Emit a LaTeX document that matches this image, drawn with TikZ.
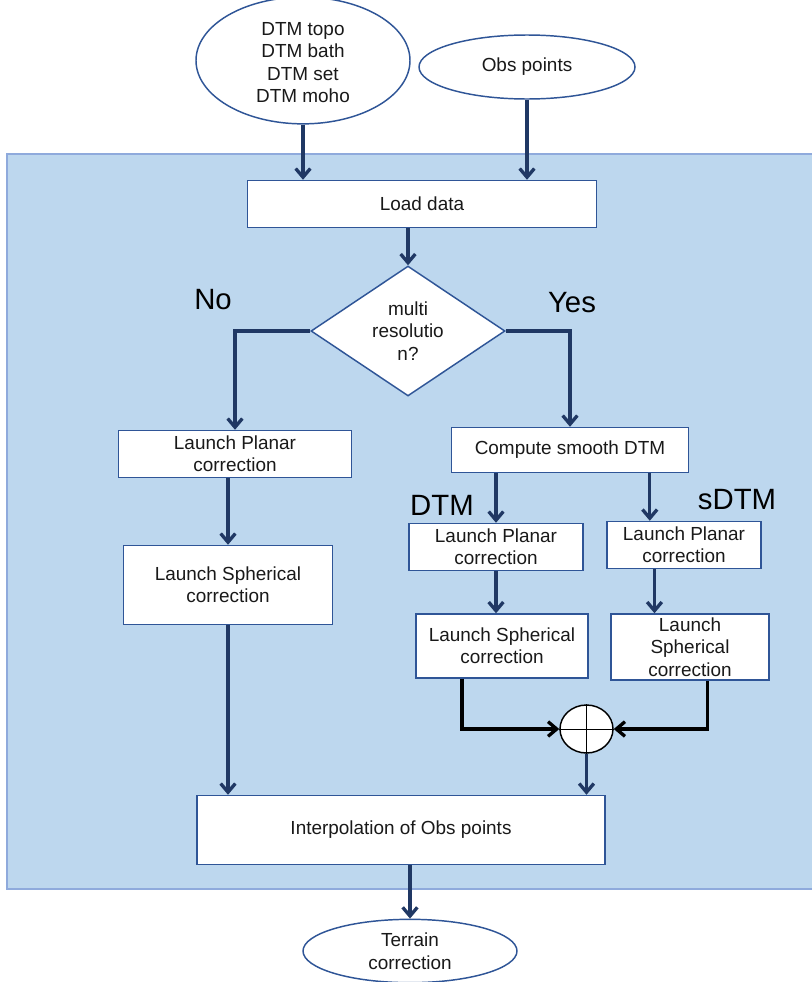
\documentclass[tikz,border=0pt]{standalone}
\usepackage{fontspec}
\setmainfont{Liberation Sans}
\usetikzlibrary{shapes.geometric,arrows.meta,calc}

\definecolor{panelfill}{HTML}{BDD7EE}
\definecolor{paneledge}{HTML}{8FAADC}
\definecolor{boxedge}{HTML}{2F5597}
\definecolor{flowblue}{HTML}{203864}

\def\pxu{0.75pt}

\tikzset{
  every node/.style={font=\fontsize{14.2pt}{16.8pt}\selectfont, text=black!90},
  stepbox/.style={draw=boxedge, line width=1.1pt, fill=white, rectangle,
    inner sep=0pt, align=center},
  termnode/.style={draw=boxedge, line width=1.1pt, fill=white, ellipse,
    inner sep=0pt, align=center},
  bigtag/.style={font=\fontsize{22pt}{24pt}\selectfont, text=black},
  flow/.style={draw=flowblue, line width=2.5pt,
    -{Straight Barb[length=6.5pt,width=11pt]}},
  sumflow/.style={draw=black, line width=2.5pt,
    -{Straight Barb[length=6.5pt,width=11pt]}},
}

\begin{document}
\begin{tikzpicture}[x=0.75pt, y=-0.75pt]
\useasboundingbox (0,0) rectangle (812,982);

% shaded processing panel
\draw[fill=panelfill, draw=paneledge, line width=1.2pt] (7,154) rectangle (816,889);

% inputs
\node[termnode, minimum width=214*\pxu, minimum height=113*\pxu] (dtm) at (303,60.5)
  {\raisebox{-3pt}[\height][\depth]{\begin{tabular}{@{}c@{}}DTM topo\\DTM bath\\DTM set\\DTM moho\end{tabular}}};
\node[termnode, minimum width=216*\pxu, minimum height=64*\pxu] (obs) at (527,67)
  {Obs points};

% main flow
\node[stepbox, minimum width=349*\pxu, minimum height=47*\pxu] (load) at (422,204) {Load data};
\node[draw=boxedge, line width=1.1pt, fill=white, diamond, shape aspect=1.5,
  inner sep=0pt, align=center, minimum width=194*\pxu, minimum height=130*\pxu]
  (dia) at (408,331) {multi\\resolutio\\n?};

\node[bigtag] (no) at (213,300) {No};
\node[bigtag] (yes) at (572,303) {Yes};

% single-resolution branch
\node[stepbox, minimum width=233*\pxu, minimum height=47*\pxu] (lp) at (235,454)
  {Launch Planar\\correction};
\node[stepbox, minimum width=209*\pxu, minimum height=79*\pxu] (ls) at (228,585)
  {Launch Spherical\\correction};

% multi-resolution branch
\node[stepbox, minimum width=237*\pxu, minimum height=45*\pxu] (cs) at (570,450)
  {Compute smooth DTM};
\node[bigtag] (tdtm) at (442,505) {DTM};
\node[bigtag] (tsdtm) at (737,500) {sDTM};

\node[stepbox, minimum width=174*\pxu, minimum height=47*\pxu] (rpa) at (496,547)
  {Launch Planar\\correction};
\node[stepbox, minimum width=154*\pxu, minimum height=47*\pxu] (rpb) at (684,545)
  {Launch Planar\\correction};
\node[stepbox, minimum width=172*\pxu, minimum height=64*\pxu] (rsa) at (502,646)
  {Launch Spherical\\correction};
\node[stepbox, minimum width=158*\pxu, minimum height=66*\pxu] (rsb) at (690,647)
  {Launch\\Spherical\\correction};

% summing junction
\node[draw=black, line width=1.1pt, fill=white, ellipse, inner sep=0pt,
  minimum width=53*\pxu, minimum height=48*\pxu] (sum) at (586.5,729) {};
\draw[line width=0.6pt] (sum.north) -- (sum.south) (sum.west) -- (sum.east);

% output
\node[stepbox, minimum width=408*\pxu, minimum height=69*\pxu] (interp) at (401,830)
  {Interpolation of Obs points};
\node[termnode, minimum width=214*\pxu, minimum height=62*\pxu] (terr) at (410,951)
  {\raisebox{-2pt}[\height][\depth]{\begin{tabular}{@{}c@{}}Terrain\\correction\end{tabular}}};

% connectors
\draw[flow] (dtm.south) -- (dtm.south |- load.north);
\draw[flow] (obs.south) -- (obs.south |- load.north);
\draw[flow] (dia.north |- load.south) -- (dia.north);
\draw[flow] (dia.west) -| (lp.north);
\draw[flow] (ls.north |- lp.south) -- (ls.north);
\draw[flow] (ls.south) -- (ls.south |- interp.north);
\draw[flow] (dia.east) -| (cs.north);
\draw[flow] (rpa.north |- cs.south) -- (rpa.north);
\coordinate (rpbin) at ($(rpb.north west)!0.28!(rpb.north east)$);
\draw[flow] (rpbin |- cs.south) -- (rpbin);
\draw[flow] (rpa.south) -- (rpa.south |- rsa.north);
\coordinate (rpbout) at ($(rpb.south west)!0.31!(rpb.south east)$);
\draw[flow] (rpbout) -- (rpbout |- rsb.north);
\coordinate (rsaout) at ($(rsa.south west)!0.27!(rsa.south east)$);
\draw[sumflow] (rsaout) |- (sum.west);
\coordinate (rsbout) at ($(rsb.south west)!0.61!(rsb.south east)$);
\draw[sumflow] (rsbout) |- (sum.east);
\draw[flow] (sum.south) -- (sum.south |- interp.north);
\draw[flow] (terr.north |- interp.south) -- (terr.north);
\end{tikzpicture}
\end{document}
